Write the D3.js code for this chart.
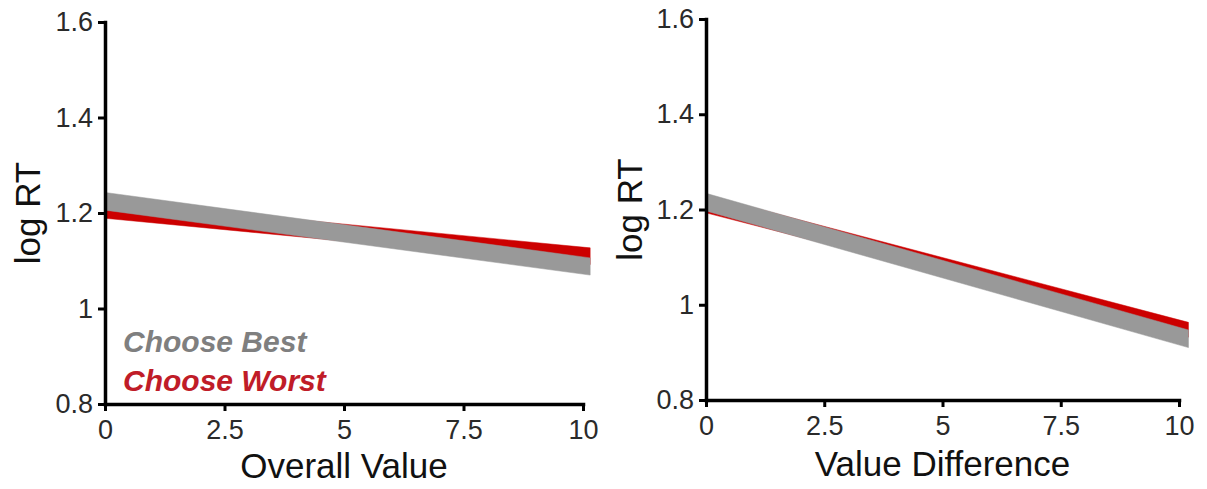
<!DOCTYPE html>
<html>
<head>
<meta charset="utf-8">
<script src="https://cdn.jsdelivr.net/npm/d3@7"></script>
<style>
  body { margin: 0; background: #fff; }
  text { font-family: "Liberation Sans", Arial, Helvetica, sans-serif; }
</style>
</head>
<body>
<svg id="chart" width="1207" height="489"></svg>
<script>
// tick values shared by both panels
var xTicks = [0, 2.5, 5, 7.5, 10];
var yTicks = [0.8, 1, 1.2, 1.4, 1.6];
var conditions = ["Choose Best", "Choose Worst"];
var colors = ["#999999", "#cc0000"];
var legendColors = ["#7f7f7f", "#c01c28"];

// fitted bands (lower / upper) at the ends of the x range
var overallX = [0, 10.15];
var overallBestLo = [1.206, 1.070];
var overallBestHi = [1.243, 1.106];
var overallWorstLo = [1.189, 1.092];
var overallWorstHi = [1.225, 1.127];

var diffX = [0, 10.2];
var diffBestLo = [1.197, 0.910];
var diffBestHi = [1.234, 0.947];
var diffWorstLo = [1.193, 0.932];
var diffWorstHi = [1.230, 0.963];

var svg = d3.select("#chart");

function drawPanel(cfg) {
    var width = cfg.width, height = cfg.height;
    var g = svg.append("g")
        .attr("transform", "translate(" + cfg.left + "," + cfg.top + ")");

    var x = d3.scaleLinear().domain([0, 10]).range([0, width]);
    var y = d3.scaleLinear().domain([0.8, 1.6]).range([height, 0]);

    var area = d3.area()
        .x(function (d) { return x(d.x); })
        .y0(function (d) { return y(d.lo); })
        .y1(function (d) { return y(d.hi); });

    // worst first, best drawn on top
    [1, 0].forEach(function (k) {
        var band = cfg.xs.map(function (v, i) {
            return { x: v, lo: cfg.lo[k][i], hi: cfg.hi[k][i] };
        });
        g.append("path")
            .datum(band)
            .attr("d", area)
            .attr("fill", colors[k])
            .attr("stroke", colors[k])
            .attr("stroke-width", 0.5);
    });

    // axes
    var xAxis = g.append("g")
        .attr("transform", "translate(0," + height + ")")
        .call(d3.axisBottom(x).tickValues(xTicks).tickSize(7).tickSizeOuter(0).tickPadding(9)
            .tickFormat(function (d) { return d; }));
    var yAxis = g.append("g")
        .call(d3.axisLeft(y).tickValues(yTicks).tickSize(7).tickSizeOuter(0).tickPadding(5)
            .tickFormat(function (d) { return d; }));

    [xAxis, yAxis].forEach(function (ax) {
        ax.attr("font-family", null).attr("font-size", 27);
        ax.selectAll("text").attr("fill", "#2a2a2a");
        ax.select(".domain").attr("stroke-width", 3.5).attr("stroke-linecap", "square");
        ax.selectAll(".tick line").attr("stroke-width", 3);
    });

    // axis titles
    g.append("text")
        .attr("x", width / 2)
        .attr("y", height + cfg.xTitleDy)
        .attr("text-anchor", "middle")
        .attr("font-size", 35)
        .attr("fill", "#111")
        .text(cfg.xTitle);

    g.append("text")
        .attr("transform", "translate(" + cfg.yTitleX + "," + (height / 2) + ") rotate(-90)")
        .attr("text-anchor", "middle")
        .attr("font-size", 35)
        .attr("fill", "#111")
        .text("log RT");

    if (cfg.legend) {
        conditions.forEach(function (c, i) {
            g.append("text")
                .attr("x", 18)
                .attr("y", 330 + i * 39)
                .attr("font-size", 30)
                .attr("font-style", "italic")
                .attr("font-weight", "bold")
                .attr("fill", legendColors[i])
                .text(c);
        });
    }
}

drawPanel({
    left: 105, top: 22, width: 478, height: 382,
    xs: overallX,
    lo: [overallBestLo, overallWorstLo],
    hi: [overallBestHi, overallWorstHi],
    xTitle: "Overall Value", xTitleDy: 74, yTitleX: -65,
    legend: true
});

drawPanel({
    left: 706, top: 19, width: 473, height: 381,
    xs: diffX,
    lo: [diffBestLo, diffWorstLo],
    hi: [diffBestHi, diffWorstHi],
    xTitle: "Value Difference", xTitleDy: 76, yTitleX: -64,
    legend: false
});
</script>
</body>
</html>
